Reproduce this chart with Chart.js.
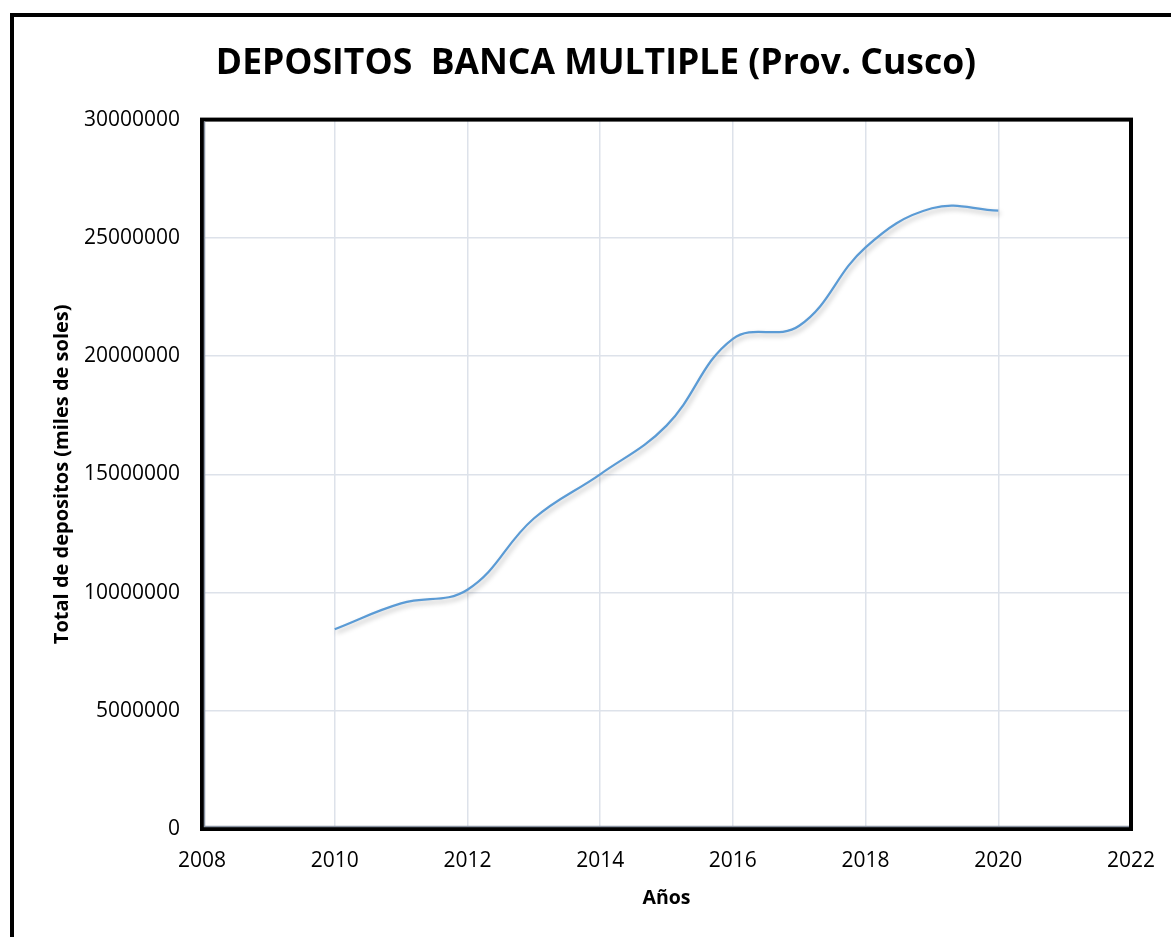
<!DOCTYPE html>
<html>
<head>
<meta charset="utf-8">
<script src="https://cdn.jsdelivr.net/npm/chart.js@4/dist/chart.umd.min.js"></script>
<style>
  html, body { margin: 0; padding: 0; background: #fff; overflow: hidden; width: 1171px; height: 937px; }
  #marco { position: absolute; left: 10px; top: 13px; width: 1200px; height: 1000px; border: 4px solid #000; box-sizing: border-box; }
  #grafico { position: absolute; left: 0; top: 0; }
</style>
</head>
<body>
<div id="marco"></div>
<canvas id="grafico" width="1193" height="937"></canvas>
<script>
// datos
const anios = [2010, 2011, 2012, 2013, 2014, 2015, 2016, 2017, 2018, 2019, 2020];
const depositos = [8450000, 9540000, 10120000, 13130000, 15000000, 17060000, 20730000, 21280000, 24600000, 26250000, 26150000];
const ticksX = [2008, 2010, 2012, 2014, 2016, 2018, 2020, 2022];
const ticksY = [0, 5000000, 10000000, 15000000, 20000000, 25000000, 30000000];

const fuente = "'Open Sans', 'Noto Sans', sans-serif";

// borde del area de trazado y sombra de la linea
const bordePlot = {
  id: "bordePlot",
  beforeDatasetDraw(chart) {
    const ctx = chart.ctx;
    ctx.save();
    ctx.shadowColor = "rgba(0,0,0,0.28)";
    ctx.shadowBlur = 5;
    ctx.shadowOffsetX = 2;
    ctx.shadowOffsetY = 3;
  },
  afterDatasetDraw(chart) {
    chart.ctx.restore();
  },
  afterDraw(chart) {
    const { left, right, top, bottom } = chart.chartArea;
    const ctx = chart.ctx;
    ctx.save();
    ctx.strokeStyle = "#000";
    ctx.lineWidth = 4;
    ctx.strokeRect(left, top, right - left, bottom - top);
    ctx.strokeStyle = "#8a94a3";
    ctx.lineWidth = 1.5;
    ctx.beginPath();
    ctx.moveTo(left + 2.5, top + 2);
    ctx.lineTo(left + 2.5, bottom - 2.5);
    ctx.lineTo(right - 2, bottom - 2.5);
    ctx.stroke();
    ctx.restore();
  }
};

new Chart(document.getElementById("grafico"), {
  type: "line",
  data: {
    datasets: [{
      data: anios.map((a, i) => ({ x: a, y: depositos[i] })),
      borderColor: "#5B9BD5",
      borderWidth: 2.25,
      pointRadius: 0,
      tension: 0.4,
      fill: false
    }]
  },
  options: {
    responsive: false,
    animation: false,
    layout: { padding: { left: 61, right: 62, top: 0, bottom: 0 } },
    plugins: {
      legend: { display: false },
      tooltip: { enabled: false },
      title: {
        display: true,
        text: "DEPOSITOS  BANCA MULTIPLE (Prov. Cusco)",
        color: "#000",
        font: { family: fuente, size: 35.5, weight: "bold" },
        padding: { top: 43, bottom: 34 }
      }
    },
    scales: {
      x: {
        type: "linear",
        min: 2008,
        max: 2022,
        afterFit(scale) { scale.height = 108; },
        afterBuildTicks(scale) { scale.ticks = ticksX.map(v => ({ value: v })); },
        grid: { color: "#dde2ea", lineWidth: 1.5, drawTicks: false },
        border: { display: false },
        ticks: {
          padding: 19,
          color: "#000",
          font: { family: fuente, size: 21 },
          callback: v => String(v)
        },
        title: {
          display: true,
          text: "Años",
          color: "#000",
          font: { family: fuente, size: 19.5, weight: "bold" },
          padding: { top: 0, bottom: 27 }
        }
      },
      y: {
        min: 0,
        max: 30000000,
        afterFit(scale) { scale.width = 141; },
        afterBuildTicks(scale) { scale.ticks = ticksY.map(v => ({ value: v })); },
        grid: { color: "#dde2ea", lineWidth: 1.5, drawTicks: false },
        border: { display: false },
        ticks: {
          padding: 22,
          color: "#000",
          font: { family: fuente, size: 21 },
          callback: v => String(v)
        },
        title: {
          display: true,
          text: "Total de depositos (miles de soles)",
          color: "#000",
          font: { family: fuente, size: 20, weight: "bold" },
          padding: { top: -11, bottom: 0 }
        }
      }
    }
  },
  plugins: [bordePlot]
});
</script>
</body>
</html>
